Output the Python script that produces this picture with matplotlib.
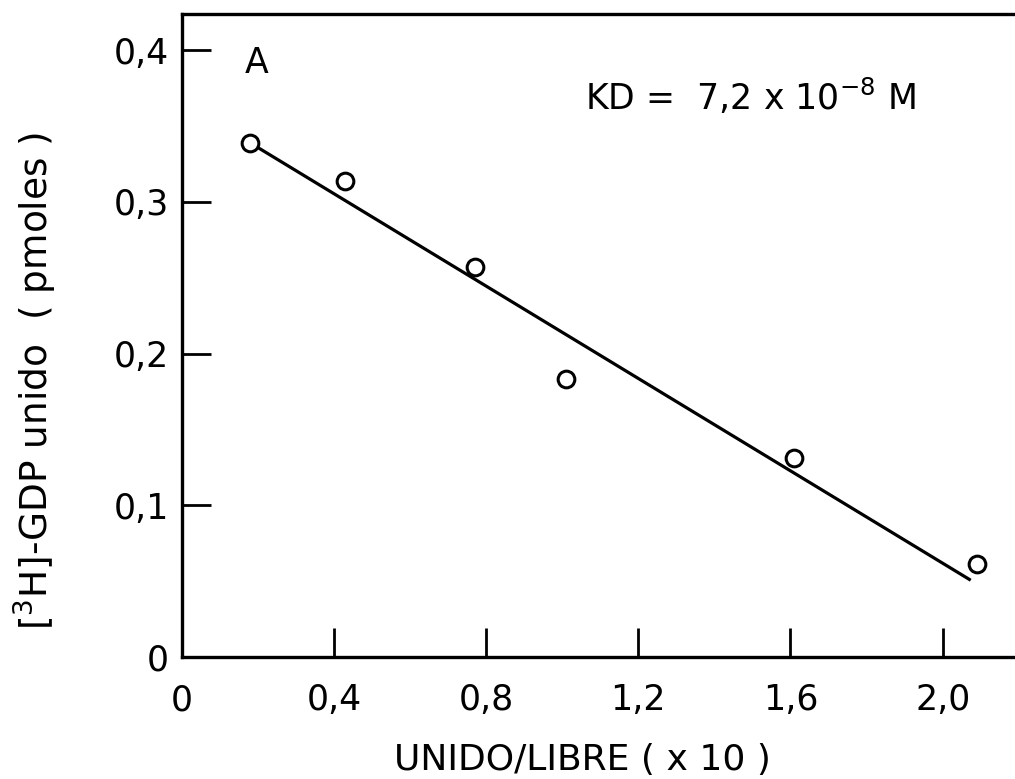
import matplotlib
matplotlib.use("Agg")
import matplotlib.pyplot as plt
import numpy as np

# Data
x_points = [0.18, 0.43, 0.77, 1.01, 1.61, 2.09]
y_points = [0.339, 0.314, 0.257, 0.183, 0.131, 0.061]
fit_x = [0.18, 2.07]
fit_y = [0.339, 0.051]

x_ticks = [0, 0.4, 0.8, 1.2, 1.6, 2.0]
x_ticklabels = ["0", "0,4", "0,8", "1,2", "1,6", "2,0"]
y_ticks = [0, 0.1, 0.2, 0.3, 0.4]
y_ticklabels = ["0", "0,1", "0,2", "0,3", "0,4"]

plt.rcParams['font.family'] = ['DejaVu Sans']
plt.rcParams['mathtext.default'] = 'regular'

fig = plt.figure(figsize=(10.15, 7.79), dpi=100)
ax = fig.add_axes([0.179, 0.157, 1.0 - 0.179, 0.982 - 0.157])
ax.set_xlim(0, 2.19)
ax.set_ylim(0, 0.424)

ax.plot(fit_x, fit_y, color='black', lw=2.3)
ax.plot(x_points, y_points, 'o', mfc='white', mec='black', mew=2.2, ms=12)

for s in ['left', 'bottom', 'top']:
    ax.spines[s].set_linewidth(2.4)
ax.spines['right'].set_visible(False)

ax.set_xticks(x_ticks)
ax.set_xticklabels(x_ticklabels)
ax.set_yticks(y_ticks)
ax.set_yticklabels(y_ticklabels)
ax.tick_params(direction='in', length=21, width=2, labelsize=25)
ax.tick_params(axis='x', pad=19)
ax.tick_params(axis='y', pad=9)

ax.set_xlabel("UNIDO/LIBRE ( x 10 )", fontsize=26, va='center')
ax.xaxis.set_label_coords(0.481, -0.160)
ax.set_ylabel(r"$\left[^{3}H\right]$-GDP unido  ( pmoles )", fontsize=27, va='center')
ax.yaxis.set_label_coords(-0.176, 0.429)

ax.text(0.197, 0.392, "A", fontsize=25, ha='center', va='center')
ax.text(1.06, 0.369, r"KD =  7,2 x 10$^{-8}$ M", fontsize=25, ha='left', va='center')

fig.savefig("out.png", dpi=100)
